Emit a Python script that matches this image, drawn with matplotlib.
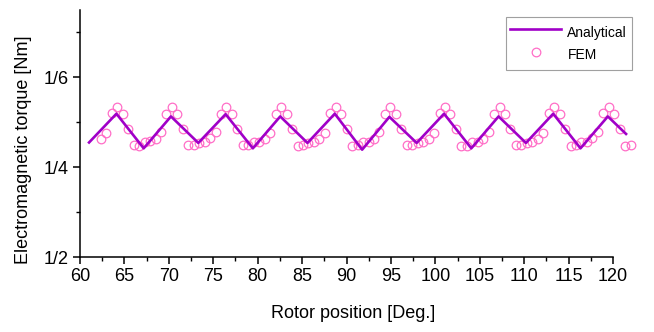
import matplotlib
matplotlib.use("Agg")
import matplotlib.pyplot as plt
from matplotlib.ticker import MultipleLocator, FixedLocator

plt.rcParams['font.family'] = ['Liberation Sans', 'DejaVu Sans']

# Analytical torque (vertices of the piecewise-linear curve)
ana_x = [61.02, 64.10, 67.17, 70.24, 73.32, 76.39, 79.46, 82.54, 85.61,
         88.68, 91.76, 94.83, 97.90, 100.98, 104.05, 107.12, 110.20, 113.27,
         116.34, 119.42, 121.47]
ana_y = [1.455, 1.519, 1.442, 1.513, 1.454, 1.518, 1.442, 1.513, 1.454,
         1.519, 1.439, 1.512, 1.454, 1.519, 1.442, 1.513, 1.454, 1.519,
         1.442, 1.513, 1.474]

# FEM torque samples
fem_x = [62.36, 62.97, 63.59, 64.20, 64.81, 65.43, 66.04, 66.66, 67.27, 67.89,
         68.50, 69.12, 69.73, 70.35, 70.96, 71.58, 72.19, 72.81, 73.42, 74.04,
         74.65, 75.27, 75.88, 76.49, 77.11, 77.72, 78.34, 78.95, 79.57, 80.18,
         80.80, 81.41, 82.03, 82.64, 83.26, 83.87, 84.49, 85.10, 85.72, 86.33,
         86.94, 87.56, 88.17, 88.79, 89.40, 90.02, 90.63, 91.25, 91.86, 92.48,
         93.09, 93.71, 94.32, 94.94, 95.55, 96.17, 96.78, 97.39, 98.01, 98.62,
         99.24, 99.85, 100.47, 101.08, 101.70, 102.31, 102.93, 103.54, 104.16,
         104.77, 105.39, 106.00, 106.62, 107.23, 107.84, 108.46, 109.07, 109.69,
         110.30, 110.92, 111.53, 112.15, 112.76, 113.38, 113.99, 114.61, 115.22,
         115.84, 116.45, 117.07, 117.68, 118.29, 118.91, 119.52, 120.14, 120.75,
         121.37, 121.98]
fem_y = [1.462, 1.477, 1.521, 1.534, 1.519, 1.486, 1.449, 1.447, 1.456, 1.458,
         1.462, 1.478, 1.519, 1.533, 1.518, 1.484, 1.449, 1.449, 1.453, 1.456,
         1.464, 1.478, 1.519, 1.533, 1.519, 1.484, 1.449, 1.450, 1.456, 1.456,
         1.462, 1.477, 1.519, 1.534, 1.519, 1.485, 1.448, 1.449, 1.454, 1.457,
         1.463, 1.477, 1.520, 1.534, 1.519, 1.486, 1.447, 1.449, 1.455, 1.457,
         1.462, 1.478, 1.519, 1.533, 1.518, 1.485, 1.449, 1.449, 1.454, 1.456,
         1.463, 1.477, 1.520, 1.534, 1.519, 1.486, 1.448, 1.448, 1.455, 1.457,
         1.462, 1.478, 1.519, 1.533, 1.519, 1.484, 1.449, 1.450, 1.454, 1.456,
         1.463, 1.477, 1.520, 1.534, 1.519, 1.486, 1.448, 1.449, 1.455, 1.457,
         1.464, 1.478, 1.520, 1.534, 1.519, 1.486, 1.447, 1.450]

x_ticks = [60, 65, 70, 75, 80, 85, 90, 95, 100, 105, 110, 115, 120]
y_ticks = [1.2, 1.4, 1.6]
y_ticklabels = ['1/2', '1/4', '1/6']

W, H = 654, 332
fig = plt.figure(figsize=(W / 100, H / 100), dpi=100)
ax = fig.add_axes([80 / W, 75 / H, (613 - 80) / W, (322 - 75) / H])

ax.plot(ana_x, ana_y, color='#A000C8', lw=1.9, label='Analytical',
        clip_on=False, zorder=3)
ax.plot(fem_x, fem_y, ls='none', marker='o', ms=6.2, mfc='none',
        mec='#FF6EC7', mew=0.9, label='FEM', clip_on=False, zorder=2)

ax.set_xlim(60, 120)
ax.set_ylim(1.2, 1.75)
ax.xaxis.set_major_locator(FixedLocator(x_ticks))
ax.xaxis.set_minor_locator(MultipleLocator(2.5))
ax.yaxis.set_major_locator(FixedLocator(y_ticks))
ax.set_yticklabels(y_ticklabels)
ax.yaxis.set_minor_locator(FixedLocator([1.3, 1.5, 1.7]))

for side in ('top', 'right'):
    ax.spines[side].set_visible(False)
for side in ('left', 'bottom'):
    ax.spines[side].set_linewidth(1.1)

ax.tick_params(which='major', direction='out', length=5, width=1.1,
               labelsize=13, pad=3)
ax.tick_params(which='minor', direction='out', length=3, width=1.0)

ax.set_xlabel('Rotor position [Deg.]', fontsize=13)
ax.set_ylabel('Electromagnetic torque [Nm]', fontsize=13)
ax.xaxis.set_label_coords(353 / W, 1 - 305 / H, transform=fig.transFigure)
ax.yaxis.set_label_coords(32 / W, 1 - 150 / H, transform=fig.transFigure)

leg = ax.legend(loc='upper right', bbox_to_anchor=(632 / W, 1 - 17 / H),
                bbox_transform=fig.transFigure, borderaxespad=0,
                fontsize=10, frameon=True, fancybox=False,
                edgecolor='#888888', numpoints=1, handlelength=3.65,
                handleheight=2.0, labelspacing=0.05, borderpad=0.35,
                handletextpad=0.45)
leg.get_frame().set_linewidth(0.8)

fig.savefig('out.png', dpi=100)
